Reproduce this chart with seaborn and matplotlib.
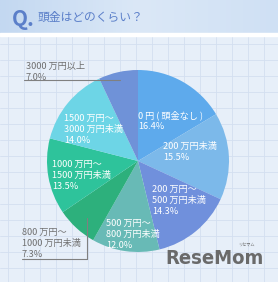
import numpy as np
import matplotlib
matplotlib.use("Agg")
import matplotlib.pyplot as plt
import seaborn as sns

sns.set_theme(style="white")
plt.rcParams['font.family'] = ['Noto Sans CJK JP', 'DejaVu Sans']

# ---- data ----
categories = ["0 円 ( 頭金なし )", "200 万円未満", "200 万円～\n500 万円未満",
              "500 万円～\n800 万円未満", "800 万円～\n1000 万円未満",
              "1000 万円～\n1500 万円未満", "1500 万円～\n3000 万円未満",
              "3000 万円以上"]
values = [16.4, 15.5, 14.3, 12.0, 7.3, 13.5, 14.0, 7.0]
title = "頭金はどのくらい？"

colors = ["#5eaaec", "#7cb9ea", "#7090dc", "#68bab6", "#2db07c",
          "#2ec39b", "#6dd5e6", "#6f92d8"]

W, H = 278, 282
fig = plt.figure(figsize=(W / 100, H / 100), dpi=100)

# background
bg = fig.add_axes([0, 0, 1, 1], zorder=0)
bg.set_xlim(0, W)
bg.set_ylim(H, 0)
bg.axis("off")
bg.add_patch(plt.Rectangle((0, 0), W, H, color="#e7eff9", zorder=0))
for x in np.arange(8, W, 16):
    bg.plot([x, x], [36, H], color="#d3dff0", lw=0.6, zorder=1)
for y in np.arange(44, H, 16):
    bg.plot([0, W], [y, y], color="#d3dff0", lw=0.6, zorder=1)
# banner gradient
grad = np.linspace(0, 1, 256).reshape(1, -1)
cmap = matplotlib.colors.LinearSegmentedColormap.from_list("b", ["#c3d8f1", "#dbe8f7", "#cfe0f4"])
bg.imshow(grad, extent=[0, W, 33, 0], aspect="auto", cmap=cmap, zorder=2)
bg.add_patch(plt.Rectangle((0, 33), W, 3, color="white", zorder=3))
bg.set_xlim(0, W)
bg.set_ylim(H, 0)

# pie
cx, cy, r = 138, 161, 91
pax = fig.add_axes([(cx - r) / W, (H - cy - r) / H, 2 * r / W, 2 * r / H], zorder=1)
pax.pie(values, colors=colors, startangle=90, counterclock=False, radius=1,
        wedgeprops=dict(linewidth=0))
pax.set_xlim(-1, 1)
pax.set_ylim(-1, 1)
pax.set_aspect("auto")
pax.axis("off")

# overlay for text
ov = fig.add_axes([0, 0, 1, 1], zorder=2)
ov.set_xlim(0, W)
ov.set_ylim(H, 0)
ov.axis("off")
ov.patch.set_alpha(0)

ov.text(12, 19, "Q.", fontsize=15, color="#5b7fc9", fontweight="bold",
        va="center", ha="left")
ov.text(38, 17, title, fontsize=8.5, color="#5b7fc9", va="center", ha="left")

pos = [(138, 110, "white"), (163, 142, "white"), (152, 185, "white"),
       (106, 219, "white"), (22, 228, "#707070"), (52, 160, "white"),
       (64, 114, "white"), (26, 62, "#707070")]
fs = 6.6
for cat, v, (x, y, c) in zip(categories, values, pos):
    ov.text(x, y, f"{cat}\n{v:.1f}%", fontsize=fs, color=c, va="top", ha="left",
            linespacing=1.25)

# leader lines
ov.plot([24, 120], [80, 80], color="#808080", lw=0.8)
ov.plot([87, 87], [218, 259], color="#808080", lw=0.8)
ov.plot([22, 87], [259, 259], color="#808080", lw=0.8)

# logo
ov.text(264, 259, "ReseMom", fontsize=14.5, color="#6a6a6a", fontweight="bold",
        ha="right", va="center", family=["DejaVu Sans"], stretch="condensed")
ov.text(246, 245, "リセマム", fontsize=3, color="#6a6a6a", ha="center", va="center")

fig.savefig("out.png", dpi=100)
